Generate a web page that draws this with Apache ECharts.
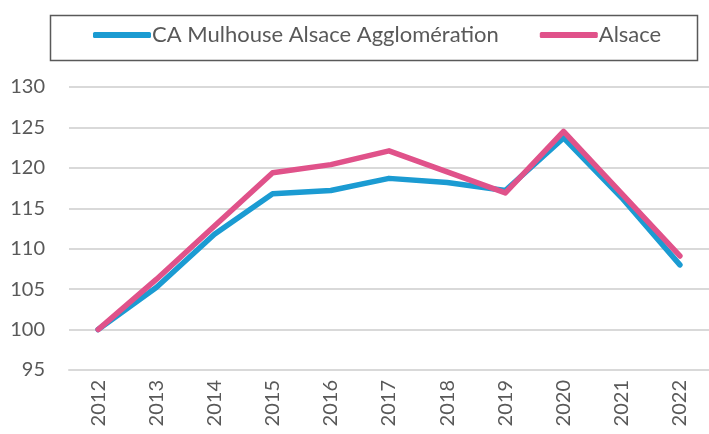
<!DOCTYPE html>
<html>
<head>
<meta charset="utf-8">
<script src="https://cdn.jsdelivr.net/npm/echarts@6/dist/echarts.min.js"></script>
<style>
  html, body { margin: 0; padding: 0; background: #fff; }
  #chart { width: 709px; height: 434px; }
</style>
</head>
<body>
<div id="chart"></div>
<script>
  // données (base 100 en 2012)
  var years = ['2012', '2013', '2014', '2015', '2016', '2017', '2018', '2019', '2020', '2021', '2022'];
  var mulhouse = [100, 105.2, 111.8, 116.8, 117.2, 118.7, 118.2, 117.2, 123.7, 116.3, 108.0];
  var alsace = [100, 106.2, 112.8, 119.4, 120.4, 122.1, 119.5, 116.9, 124.5, 116.8, 109.1];
  var yTicks = { min: 95, max: 130, step: 5 };

  var font = 'Lato, "Open Sans", sans-serif';
  var grey = '#595959';

  var chart = echarts.init(document.getElementById('chart'));
  chart.setOption({
    animation: false,
    color: ['#1b9bd2', '#e0528a'],
    graphic: [{
      // cadre de la légende
      type: 'rect',
      left: 48, top: 13,
      shape: { width: 647, height: 45 },
      style: { fill: 'none', stroke: grey, lineWidth: 1.5 }
    }],
    legend: {
      left: 88, top: 19,
      itemWidth: 58, itemHeight: 6,
      itemGap: 41,
      icon: 'roundRect',
      textStyle: { fontFamily: font, fontSize: 22, color: grey, padding: [0, 0, 0, -4] },
      data: ['CA Mulhouse Alsace Agglomération', 'Alsace']
    },
    grid: { left: 69, right: -12, top: 87, bottom: 64 },
    xAxis: {
      type: 'category',
      data: years,
      boundaryGap: true,
      axisLine: { lineStyle: { color: '#d9d9d9', width: 2 } },
      axisTick: { show: false },
      axisLabel: { rotate: 90, margin: 10, fontFamily: font, fontSize: 20, color: grey }
    },
    yAxis: {
      type: 'value',
      min: yTicks.min, max: yTicks.max, interval: yTicks.step,
      axisLine: { show: false },
      axisTick: { show: false },
      splitLine: { lineStyle: { color: '#d9d9d9', width: 2 } },
      axisLabel: { margin: 24, fontFamily: font, fontSize: 20, color: grey }
    },
    series: [
      {
        name: 'CA Mulhouse Alsace Agglomération',
        type: 'line',
        data: mulhouse,
        showSymbol: false,
        lineStyle: { width: 5.5, cap: 'round', join: 'round' }
      },
      {
        name: 'Alsace',
        type: 'line',
        data: alsace,
        showSymbol: false,
        lineStyle: { width: 5.5, cap: 'round', join: 'round' }
      }
    ]
  });
</script>
</body>
</html>
